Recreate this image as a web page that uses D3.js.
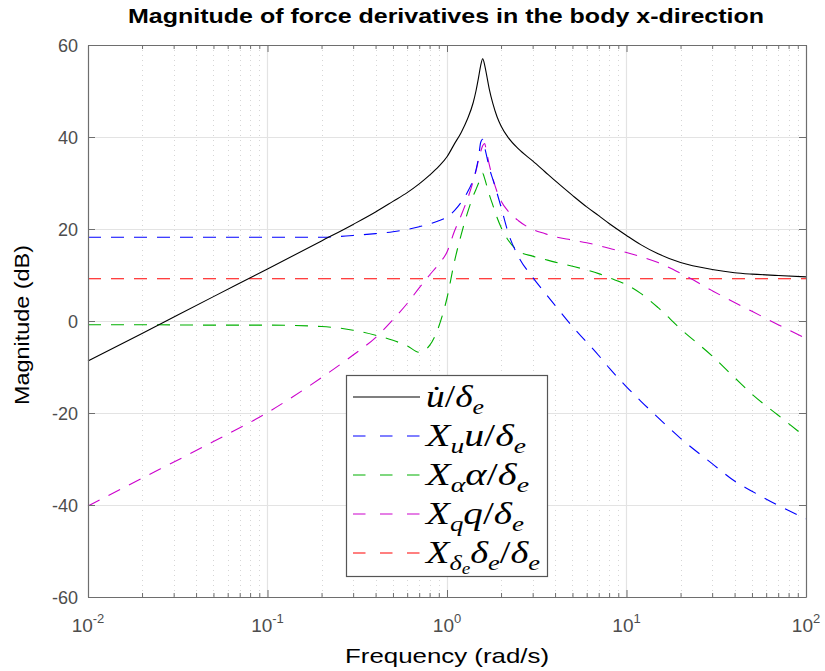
<!DOCTYPE html>
<html>
<head>
<meta charset="utf-8">
<script src="https://cdn.jsdelivr.net/npm/d3@7"></script>
<style>
  html, body { margin: 0; padding: 0; background: #fff; }
  svg { display: block; }
</style>
</head>
<body>
<svg id="chart" width="825" height="671"></svg>
<script>
// ---------------- data ----------------
const freq = [0.01, 0.02, 0.05, 0.1, 0.2, 0.3, 0.4, 0.5, 0.6, 0.7, 0.8, 0.9, 1.0, 1.1, 1.2, 1.3, 1.4, 1.45, 1.5, 1.54, 1.58, 1.62, 1.66, 1.72, 1.8, 1.9, 2.0, 2.2, 2.5, 3, 3.5, 4, 5, 6, 7, 8, 10, 12, 15, 20, 30, 40, 50, 70, 100];
const uDotMag = [-8.7, -2.7, 5.3, 11.3, 17.4, 21.0, 23.7, 26.0, 27.9, 29.8, 31.7, 33.6, 35.7, 38.5, 41.0, 43.9, 47.5, 50.0, 53.0, 55.5, 57.0, 55.7, 53.6, 50.4, 47.3, 44.4, 42.4, 39.8, 37.4, 34.8, 32.5, 30.5, 27.3, 24.8, 22.9, 21.2, 18.6, 16.6, 14.6, 12.7, 11.2, 10.5, 10.2, 9.9, 9.6];
const xuMag = [18.2, 18.2, 18.2, 18.2, 18.2, 18.6, 19.0, 19.4, 19.9, 20.5, 21.1, 21.8, 22.6, 24.0, 25.8, 28.0, 30.8, 32.8, 35.6, 38.8, 39.5, 37.8, 36.0, 33.3, 30.8, 27.8, 24.8, 19.0, 14.0, 9.5, 6.2, 3.4, -1.2, -4.6, -7.5, -10.2, -14.3, -17.4, -21.0, -25.5, -31.0, -34.8, -37.0, -40.1, -43.0];
const xAlphaMag = [-0.8, -0.8, -0.9, -0.9, -1.2, -2.0, -3.1, -4.2, -5.4, -6.8, -5.3, -1.2, 5.0, 12.9, 18.8, 23.5, 27.2, 28.6, 30.0, 31.2, 32.1, 31.0, 29.6, 27.5, 25.2, 22.5, 20.4, 17.5, 15.2, 14.1, 13.4, 12.8, 11.9, 11.1, 10.3, 9.4, 7.9, 6.0, 2.9, -1.7, -7.6, -12.3, -15.9, -20.5, -25.3];
const xqMag = [-40.2, -34.2, -26.2, -19.9, -12.3, -7.4, -3.6, 0.3, 3.8, 7.2, 10.0, 12.4, 15.0, 19.5, 23.0, 26.5, 30.4, 32.6, 35.1, 36.8, 38.1, 38.6, 36.8, 34.0, 31.0, 28.1, 26.1, 23.8, 21.8, 19.9, 19.0, 18.3, 17.6, 17.0, 16.4, 15.8, 14.9, 14.0, 12.7, 10.4, 6.6, 4.0, 2.1, -0.8, -3.8];
const xDeltaEMag = [9.2, 9.2, 9.2, 9.2, 9.2, 9.2, 9.2, 9.2, 9.2, 9.2, 9.2, 9.2, 9.2, 9.2, 9.2, 9.2, 9.2, 9.2, 9.2, 9.2, 9.2, 9.2, 9.2, 9.2, 9.2, 9.2, 9.2, 9.2, 9.2, 9.2, 9.2, 9.2, 9.2, 9.2, 9.2, 9.2, 9.2, 9.2, 9.2, 9.2, 9.2, 9.2, 9.2, 9.2, 9.2];

const xTickValues = [0.01, 0.1, 1, 10, 100];
const xTickExponents = ["-2", "-1", "0", "1", "2"];
const yTickValues = [-60, -40, -20, 0, 20, 40, 60];
const yTickLabels = ["-60", "-40", "-20", "0", "20", "40", "60"];

const titleText = "Magnitude of force derivatives in the body x-direction";
const xLabelText = "Frequency  (rad/s)";
const yLabelText = "Magnitude (dB)";

// legend entries: parts with subscript level
const seriesList = [
  { mag: uDotMag, color: "#000000", dash: null,
    label: [{t: "u\u0307", l: 0, i: true}, {t: "/", l: 0, i: false}, {t: "δ", l: 0, i: true}, {t: "e", l: 1, i: true}] },
  { mag: xuMag, color: "#0000ff", dash: "13,10",
    label: [{t: "X", l: 0, i: true}, {t: "u", l: 1, i: true}, {t: "u", l: 0, i: true}, {t: "/", l: 0, i: false}, {t: "δ", l: 0, i: true}, {t: "e", l: 1, i: true}] },
  { mag: xAlphaMag, color: "#00b000", dash: "13,10",
    label: [{t: "X", l: 0, i: true}, {t: "α", l: 1, i: true}, {t: "α", l: 0, i: true}, {t: "/", l: 0, i: false}, {t: "δ", l: 0, i: true}, {t: "e", l: 1, i: true}] },
  { mag: xqMag, color: "#cc00cc", dash: "13,10",
    label: [{t: "X", l: 0, i: true}, {t: "q", l: 1, i: true}, {t: "q", l: 0, i: true}, {t: "/", l: 0, i: false}, {t: "δ", l: 0, i: true}, {t: "e", l: 1, i: true}] },
  { mag: xDeltaEMag, color: "#ff0000", dash: "13,10",
    label: [{t: "X", l: 0, i: true}, {t: "δ", l: 1, i: true}, {t: "e", l: 2, i: true}, {t: "δ", l: 0, i: true}, {t: "e", l: 1, i: true}, {t: "/", l: 0, i: false}, {t: "δ", l: 0, i: true}, {t: "e", l: 1, i: true}] }
];
const legendTextWidths = [58, 100, 103, 98, 114];

// ---------------- layout ----------------
const L = 88, R = 806, T = 45, B = 597;
const svg = d3.select("#chart");
const x = d3.scaleLog().domain([0.01, 100]).range([L, R]);
const y = d3.scaleLinear().domain([-60, 60]).range([B, T]);

const minorTicks = [];
[0.01, 0.1, 1, 10].forEach(d => { for (let k = 2; k <= 9; k++) minorTicks.push(d * k); });

const axisColor = "#6e6e6e";
const labelColor = "#4d4d4d";
const font = "'Liberation Sans', Arial, Helvetica, sans-serif";

// grid
const grid = svg.append("g");
grid.selectAll("line.minor").data(minorTicks).join("line")
  .attr("x1", d => Math.round(x(d)) + 0.5).attr("x2", d => Math.round(x(d)) + 0.5)
  .attr("y1", T).attr("y2", B)
  .attr("stroke", "#d6d6d6").attr("stroke-width", 1).attr("stroke-dasharray", "1,4");
grid.selectAll("line.vmaj").data(xTickValues.slice(1, -1)).join("line")
  .attr("x1", d => Math.round(x(d)) + 0.5).attr("x2", d => Math.round(x(d)) + 0.5)
  .attr("y1", T).attr("y2", B)
  .attr("stroke", "#e3e3e3").attr("stroke-width", 1.2);
grid.selectAll("line.hmaj").data(yTickValues.slice(1, -1)).join("line")
  .attr("y1", d => Math.round(y(d)) + 0.5).attr("y2", d => Math.round(y(d)) + 0.5)
  .attr("x1", L).attr("x2", R)
  .attr("stroke", "#e3e3e3").attr("stroke-width", 1.2);

// curves
const line = d3.line().x((d, i) => x(freq[i])).y(d => y(d)).curve(d3.curveMonotoneX);
const curves = svg.append("g");
seriesList.slice().reverse().forEach(s => {
  curves.append("path").attr("d", line(s.mag))
    .attr("fill", "none").attr("stroke", s.color).attr("stroke-width", 1.1)
    .attr("stroke-dasharray", s.dash);
});

// axes
function styleAxis(g) {
  g.selectAll("path.domain").attr("stroke", axisColor).attr("stroke-width", 1.2);
  g.selectAll(".tick line").attr("stroke", axisColor).attr("stroke-width", 1);
  g.selectAll("text").attr("fill", labelColor);
}
svg.append("g").attr("transform", `translate(0,${B})`)
  .call(d3.axisBottom(x).tickValues(xTickValues).tickSizeInner(-7).tickSizeOuter(0).tickFormat(() => ""))
  .call(styleAxis);
svg.append("g").attr("transform", `translate(0,${B})`)
  .call(d3.axisBottom(x).tickValues(minorTicks).tickSizeInner(-4).tickSizeOuter(0).tickFormat(() => ""))
  .call(g => g.select(".domain").remove()).call(styleAxis);
svg.append("g").attr("transform", `translate(0,${T})`)
  .call(d3.axisTop(x).tickValues(xTickValues).tickSizeInner(-7).tickSizeOuter(0).tickFormat(() => ""))
  .call(styleAxis);
svg.append("g").attr("transform", `translate(0,${T})`)
  .call(d3.axisTop(x).tickValues(minorTicks).tickSizeInner(-4).tickSizeOuter(0).tickFormat(() => ""))
  .call(g => g.select(".domain").remove()).call(styleAxis);
const yl = svg.append("g").attr("transform", `translate(${L},0)`)
  .call(d3.axisLeft(y).tickValues(yTickValues).tickSizeInner(-7).tickSizeOuter(0).tickPadding(10)
    .tickFormat((d, i) => yTickLabels[i]));
styleAxis(yl);
yl.selectAll("text").attr("font-family", font).attr("font-size", 18).attr("dy", "0.35em");
svg.append("g").attr("transform", `translate(${R},0)`)
  .call(d3.axisRight(y).tickValues(yTickValues).tickSizeInner(-7).tickSizeOuter(0).tickFormat(() => ""))
  .call(styleAxis);

// x tick labels with superscripts
const xl = svg.append("g");
xTickValues.forEach((v, i) => {
  const t = xl.append("text").attr("x", x(v)).attr("y", 632)
    .attr("text-anchor", "middle").attr("font-family", font).attr("font-size", 19).attr("fill", labelColor);
  t.append("tspan").text("10");
  t.append("tspan").attr("dy", -9).attr("font-size", 13).text(xTickExponents[i]);
});

// title & labels
svg.append("text").attr("x", 446).attr("y", 23).attr("text-anchor", "middle")
  .attr("font-family", font).attr("font-weight", "bold").attr("font-size", 21)
  .attr("textLength", 636).attr("lengthAdjust", "spacingAndGlyphs")
  .attr("fill", "#000").text(titleText);
svg.append("text").attr("x", 447).attr("y", 663).attr("text-anchor", "middle")
  .attr("font-family", font).attr("font-size", 21)
  .attr("textLength", 204).attr("lengthAdjust", "spacingAndGlyphs")
  .attr("fill", "#000").text(xLabelText);
svg.append("text").attr("transform", "translate(29,325) rotate(-90)").attr("text-anchor", "middle")
  .attr("font-family", font).attr("font-size", 21)
  .attr("textLength", 160).attr("lengthAdjust", "spacingAndGlyphs")
  .attr("fill", "#000").text(yLabelText);

// legend
const lg = svg.append("g");
lg.append("rect").attr("x", 346.5).attr("y", 375.5).attr("width", 201).attr("height", 201)
  .attr("fill", "#fff").attr("stroke", "#555").attr("stroke-width", 1.2);
const rowY = [397, 436, 475, 514, 553];
const mathFont = "'Liberation Serif', 'Times New Roman', serif";
const sizes = [32, 22, 16];
const shifts = [0, 7, 4];
seriesList.forEach((s, i) => {
  const yy = rowY[i];
  lg.append("line").attr("x1", 353).attr("x2", 420).attr("y1", yy).attr("y2", yy)
    .attr("stroke", s.color).attr("stroke-width", 1.1)
    .attr("stroke-dasharray", s.dash ? "12.5,14.5" : null);
  const t = lg.append("text").attr("x", 426).attr("y", yy + 10)
    .attr("font-family", mathFont).attr("fill", "#000");
  let cur = 0;
  s.label.forEach(p => {
    let dy = 0;
    if (p.l > cur) { for (let k = cur + 1; k <= p.l; k++) dy += shifts[k]; }
    else if (p.l < cur) { for (let k = cur; k > p.l; k--) dy -= shifts[k]; }
    cur = p.l;
    t.append("tspan").attr("dy", dy).attr("font-size", sizes[p.l])
      .attr("font-style", p.i ? "italic" : "normal").text(p.t);
  });
  const natural = t.node().getComputedTextLength();
  if (natural < legendTextWidths[i]) {
    t.attr("textLength", legendTextWidths[i]).attr("lengthAdjust", "spacingAndGlyphs");
  }
});
</script>
</body>
</html>
